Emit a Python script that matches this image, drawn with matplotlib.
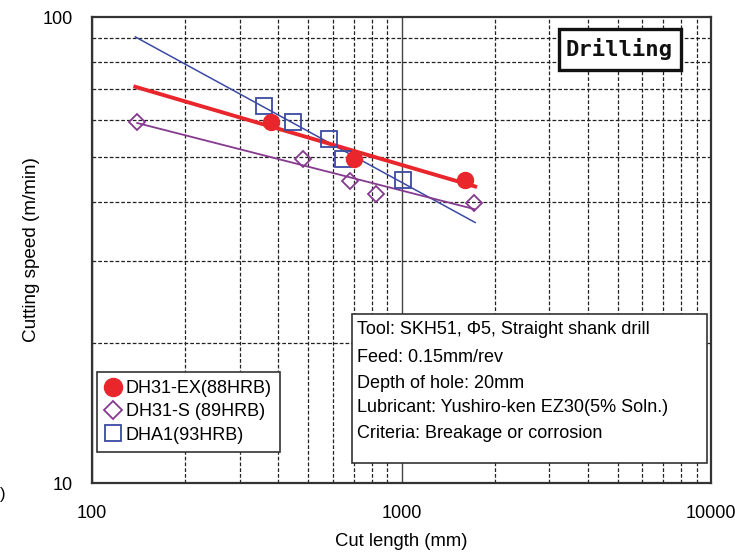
import numpy as np
import matplotlib
matplotlib.use("Agg")
import matplotlib.pyplot as plt
from matplotlib import font_manager as fm
from matplotlib.ticker import LogLocator, NullFormatter, FixedLocator, FixedFormatter
from matplotlib.lines import Line2D
from matplotlib.patches import Rectangle

# ---------------- data ----------------
ex_len = [380, 700, 1600]
ex_speed = [59.5, 49.6, 44.7]
s_len = [140, 480, 680, 830, 1720]
s_speed = [59.5, 49.6, 44.5, 41.7, 39.9]
a_len = [360, 445, 585, 645, 1010]
a_speed = [64.4, 59.5, 54.7, 49.6, 44.7]
ex_fit_range = [138, 1730]
s_fit_range = [140, 1720]
a_fit_range = [138, 1730]
series_labels = ["DH31-EX(88HRB)", "DH31-S (89HRB)", "DHA1(93HRB)"]
x_ticks = [100, 1000, 10000]
x_ticklabels = ["100", "1000", "10000"]
y_ticks = [10, 100]
y_ticklabels = ["10", "100"]
info_lines = [
    "Tool: SKH51, \u03a65, Straight shank drill",
    "Feed: 0.15mm/rev",
    "Depth of hole: 20mm",
    "Lubricant: Yushiro-ken EZ30(5% Soln.)",
    "Criteria: Breakage or corrosion",
]
title_text = "Drilling"

# ---------------- style ----------------
names = {f.name for f in fm.fontManager.ttflist}
base = "Liberation Sans Narrow" if "Liberation Sans Narrow" in names else "Liberation Sans"
plt.rcParams['font.family'] = [base, 'DejaVu Sans']

RED = "#e8262c"
PURPLE = "#85398f"
BLUE = "#3b4aa3"

fig = plt.figure(figsize=(7.35, 5.58), dpi=100)
W, H = 735, 558
ax_l, ax_r, ax_t, ax_b = 92, 711, 17, 483
ax = fig.add_axes([ax_l / W, 1 - ax_b / H, (ax_r - ax_l) / W, (ax_b - ax_t) / H])
ax.set_xscale('log')
ax.set_yscale('log')
ax.set_xlim(100, 10000)
ax.set_ylim(10, 100)

# grid
ax.xaxis.set_minor_locator(LogLocator(base=10, subs=np.arange(2, 10)))
ax.yaxis.set_minor_locator(LogLocator(base=10, subs=np.arange(2, 10)))
ax.xaxis.set_minor_formatter(NullFormatter())
ax.yaxis.set_minor_formatter(NullFormatter())
ax.xaxis.set_major_locator(FixedLocator(x_ticks))
ax.xaxis.set_major_formatter(FixedFormatter(x_ticklabels))
ax.yaxis.set_major_locator(FixedLocator(y_ticks))
ax.yaxis.set_major_formatter(FixedFormatter(y_ticklabels))
ax.grid(True, which='minor', axis='both', color='#222222', lw=0.9, linestyle=(0, (3, 1.6)))
ax.grid(True, which='major', axis='x', color='#444444', lw=1.0, linestyle='-')
ax.tick_params(which='both', length=0)
ax.tick_params(axis='x', pad=16, labelsize=13)
ax.tick_params(axis='y', pad=14, labelsize=13)
for sp in ax.spines.values():
    sp.set_color('#333333')
    sp.set_linewidth(1.6)
ax.set_axisbelow(True)

def fit_line(xs, ys, xr):
    k, b = np.polyfit(np.log10(xs), np.log10(ys), 1)
    xx = np.array(xr, dtype=float)
    return xx, 10 ** (k * np.log10(xx) + b)

# fit lines
fx, fy = fit_line(a_len, a_speed, a_fit_range)
ax.plot(fx, fy, color=BLUE, lw=1.1, zorder=3)
fx, fy = fit_line(s_len, s_speed, s_fit_range)
ax.plot(fx, fy, color=PURPLE, lw=1.3, zorder=3)
fx, fy = fit_line(ex_len, ex_speed, ex_fit_range)
ax.plot(fx, fy, color=RED, lw=2.8, zorder=4)

# markers
ax.plot(s_len, s_speed, linestyle='none', marker='D', ms=8.5, mfc='none', mec=PURPLE, mew=1.3, zorder=5)
ax.plot(a_len, a_speed, linestyle='none', marker='s', ms=11, mfc='none', mec=BLUE, mew=1.3, zorder=5)
ax.plot(ex_len, ex_speed, linestyle='none', marker='o', ms=11.5, mfc=RED, mec=RED, zorder=6)

# axis labels
ax.set_xlabel("Cut length (mm)", fontsize=13.3, labelpad=8)
ax.set_ylabel("Cutting speed (m/min)", fontsize=13.6, labelpad=2)

# legend
handles = [
    Line2D([], [], linestyle='none', marker='o', ms=13, mfc=RED, mec=RED),
    Line2D([], [], linestyle='none', marker='D', ms=9, mfc='none', mec=PURPLE, mew=1.3),
    Line2D([], [], linestyle='none', marker='s', ms=12, mfc='none', mec=BLUE, mew=1.3),
]
leg = ax.legend(handles, series_labels, loc='upper left',
                bbox_to_anchor=((97 - ax_l) / (ax_r - ax_l), (ax_b - 372) / (ax_b - ax_t)),
                borderaxespad=0, fontsize=13, frameon=True, fancybox=False,
                edgecolor='#333333', framealpha=1, handlelength=0.9, handletextpad=0.25,
                labelspacing=0.35, borderpad=0.45)
leg.get_frame().set_linewidth(1.2)
leg.set_zorder(10)

# info box
def axpt(px, py):
    return (px - ax_l) / (ax_r - ax_l), (ax_b - py) / (ax_b - ax_t)

x0, y1 = axpt(352, 314)
x1, y0 = axpt(707, 463)
ax.add_patch(Rectangle((x0, y0), x1 - x0, y1 - y0, transform=ax.transAxes,
                       facecolor='white', edgecolor='#333333', lw=1.2, zorder=10))
line_y = [330, 357, 383, 408, 434]
for txt, py in zip(info_lines, line_y):
    tx, ty = axpt(357, py)
    ax.text(tx, ty, txt, transform=ax.transAxes, fontsize=13, va='center', ha='left', zorder=11)

# drilling box
x0, y1 = axpt(559, 29)
x1, y0 = axpt(681, 70)
ax.add_patch(Rectangle((x0, y0), x1 - x0, y1 - y0, transform=ax.transAxes,
                       facecolor='white', edgecolor='#111111', lw=2.4, zorder=10))
tx, ty = axpt(619, 49)
ax.text(tx, ty, title_text, transform=ax.transAxes, fontsize=16, fontweight='bold',
        family=['DejaVu Sans Mono'], va='center', ha='center', color='#111111', zorder=11)

# stray character at the left edge
fig.text(0.0, 1 - 495 / H, ")", fontsize=12, va='center', ha='left')

fig.savefig("out.png", dpi=100)
